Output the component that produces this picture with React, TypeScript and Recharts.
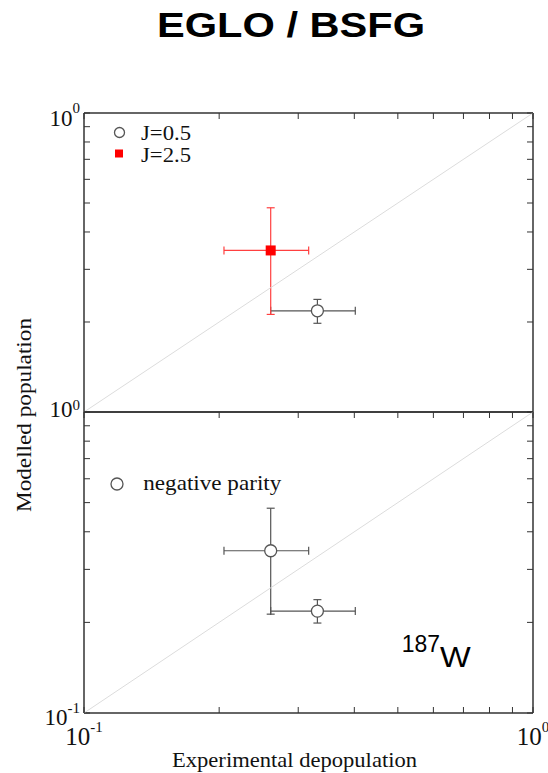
import { ErrorBar, Legend, Scatter, ScatterChart, XAxis, YAxis } from 'recharts'

const W = 548
const H = 773

const TICKS = [0.1, 0.2, 0.3, 0.4, 0.5, 0.6, 0.7, 0.8, 0.9, 1]
const DIAGONAL = [0.1, 1]

// upper panel, J=0.5
const J05_X = [0.331]
const J05_X_RANGE = [[0.2605, 0.402]]
const J05_Y = [0.218]
const J05_Y_RANGE = [[0.198, 0.238]]

// upper panel, J=2.5
const J25_X = [0.2605]
const J25_X_RANGE = [[0.205, 0.3165]]
const J25_Y = [0.347]
const J25_Y_RANGE = [[0.212, 0.482]]

// lower panel, negative parity
const NEG_X = [0.2605, 0.331]
const NEG_X_RANGE = [[0.205, 0.3165], [0.2605, 0.402]]
const NEG_Y = [0.346, 0.218]
const NEG_Y_RANGE = [[0.213, 0.479], [0.199, 0.238]]

const SERIF = '"Liberation Serif", "Times New Roman", serif'
const SANS = '"Liberation Sans", Arial, sans-serif'
const AXIS = '#333'
const GREY = '#555'
const RED = '#ff0000'

const toRows = (xs: number[], xr: number[][], ys: number[], yr: number[][]) =>
  xs.map((x, i) => ({
    x,
    y: ys[i],
    ex: [x - xr[i][0], xr[i][1] - x],
    ey: [ys[i] - yr[i][0], yr[i][1] - ys[i]],
  }))

const diagRows = DIAGONAL.map((v) => ({ x: v, y: v }))

const MARKERS: Record<string, 'circle' | 'square'> = {
  'J=0.5': 'circle',
  'J=2.5': 'square',
  'negative parity': 'circle',
}

const OpenCircle = (p: any) => <circle cx={p.cx} cy={p.cy} r={6} fill="#fff" stroke={GREY} strokeWidth={1.3} />
const RedSquare = (p: any) => <rect x={p.cx - 5} y={p.cy - 5} width={10} height={10} fill={RED} />
const NoShape = () => <g />

type LabelSpec = { sup: string; dy: number; supDy: number }

const LeftTick = ({ x, y, payload, labels }: any) => {
  const lab: LabelSpec | undefined = labels[payload.value]
  return (
    <g>
      <line x1={x} x2={x + 6} y1={y} y2={y} stroke={AXIS} strokeWidth={1} />
      {lab && (
        <text x={x - 4} y={y + lab.dy} textAnchor="end" fontFamily={SERIF} fontSize={23} fill="#111">
          10
          <tspan dy={lab.supDy} fontSize={15}>
            {lab.sup}
          </tspan>
        </text>
      )}
    </g>
  )
}

const RightTick = ({ x, y }: any) => <line x1={x} x2={x - 6} y1={y} y2={y} stroke={AXIS} strokeWidth={1} />
const TopTick = ({ x, y }: any) => <line x1={x} x2={x} y1={y} y2={y + 6} stroke={AXIS} strokeWidth={1} />

const BottomTick = ({ x, y, payload, labels }: any) => {
  const sup: string | undefined = labels[payload.value]
  return (
    <g>
      <line x1={x} x2={x} y1={y} y2={y - 6} stroke={AXIS} strokeWidth={1} />
      {sup && (
        <text x={x} y={y + 32} textAnchor="middle" fontFamily={SERIF} fontSize={25} fill="#111">
          10
          <tspan dy={-13} fontSize={15}>
            {sup}
          </tspan>
        </text>
      )}
    </g>
  )
}

const LegendBox = ({ payload, rows }: any) => {
  const items = (payload || []).filter((e: any) => e.type !== 'none')
  return (
    <svg width={220} height={60} style={{ display: 'block' }}>
      {items.map((e: any, i: number) => {
        const r = rows[i]
        const kind = MARKERS[e.value]
        return (
          <g key={e.value}>
            {kind === 'square' ? (
              <rect x={r.mx - 4} y={r.my - 4} width={8} height={8} fill={RED} />
            ) : (
              <circle cx={r.mx} cy={r.my} r={r.mr} fill="#fff" stroke={GREY} strokeWidth={1.3} />
            )}
            <text
              x={r.tx}
              y={r.ty}
              fontFamily={SERIF}
              fontSize={r.fs}
              textLength={r.len}
              lengthAdjust="spacingAndGlyphs"
              fill="#111"
            >
              {e.value}
            </text>
          </g>
        )
      })}
    </svg>
  )
}

// axes take 1px of room each (a zero-size axis is not drawn), margins are reduced to match
const axisCommon = {
  type: 'number' as const,
  scale: 'log' as const,
  domain: [0.1, 1],
  allowDataOverflow: true,
  ticks: TICKS,
  interval: 0,
  tickSize: 0,
  tickMargin: 0,
  tickLine: false,
  axisLine: { stroke: AXIS, strokeWidth: 1.5 },
}

const axesFor = (leftLabels: Record<number, LabelSpec>, bottomLabels: Record<number, string> | null) => [
  <XAxis
    key="xb"
    xAxisId="b"
    dataKey="x"
    height={1}
    {...axisCommon}
    tick={bottomLabels ? (p: any) => <BottomTick {...p} labels={bottomLabels} /> : false}
  />,
  <XAxis key="xt" xAxisId="t" orientation="top" dataKey="x" height={1} {...axisCommon} tick={(p: any) => <TopTick {...p} />} />,
  <YAxis
    key="yl"
    yAxisId="l"
    dataKey="y"
    width={1}
    {...axisCommon}
    tick={(p: any) => <LeftTick {...p} labels={leftLabels} />}
  />,
  <YAxis key="yr" yAxisId="r" orientation="right" dataKey="y" width={1} {...axisCommon} tick={(p: any) => <RightTick {...p} />} />,
]

const diagonal = (
  <Scatter
    key="diag"
    xAxisId="t"
    yAxisId="r"
    data={diagRows}
    line={{ stroke: '#dcdcdc', strokeWidth: 1 }}
    shape={NoShape}
    legendType="none"
    isAnimationActive={false}
  />
)

const errBars = (color: string) => [
  <ErrorBar key="ex" dataKey="ex" direction="x" width={4} stroke={color} strokeWidth={1.2} />,
  <ErrorBar key="ey" dataKey="ey" direction="y" width={4} stroke={color} strokeWidth={1.2} />,
]

export default function App() {
  return (
    <div style={{ position: 'absolute', left: 0, top: 0, width: W, height: H, background: '#fff' }}>
      <div style={{ position: 'absolute', left: 0, top: 0 }}>
        <ScatterChart width={W} height={H} margin={{ top: 112, right: 14, bottom: 360, left: 83 }}>
          {axesFor({ 1: { sup: '0', dy: 13, supDy: -13 } }, null)}
          {diagonal}
          <Scatter
            name="J=0.5"
            xAxisId="b"
            yAxisId="l"
            data={toRows(J05_X, J05_X_RANGE, J05_Y, J05_Y_RANGE)}
            fill={GREY}
            shape={OpenCircle}
            isAnimationActive={false}
          >
            {errBars(GREY)}
          </Scatter>
          <Scatter
            name="J=2.5"
            xAxisId="b"
            yAxisId="l"
            data={toRows(J25_X, J25_X_RANGE, J25_Y, J25_Y_RANGE)}
            fill={RED}
            shape={RedSquare}
            isAnimationActive={false}
          >
            {errBars('#ff4040')}
          </Scatter>
          <Legend
            layout="vertical"
            align="center"
            verticalAlign="middle"
            wrapperStyle={{ left: 100, top: 115, width: 220 }}
            content={(p: any) => (
              <LegendBox
                {...p}
                rows={[
                  { mx: 19.5, my: 17.5, mr: 5, tx: 41, ty: 25, fs: 20, len: 50 },
                  { mx: 19, my: 38.5, mr: 5, tx: 41, ty: 46.7, fs: 20, len: 50 },
                ]}
              />
            )}
          />
        </ScatterChart>
      </div>
      <div style={{ position: 'absolute', left: 0, top: 0 }}>
        <ScatterChart width={W} height={H} margin={{ top: 411, right: 14, bottom: 59, left: 83 }}>
          {axesFor(
            { 1: { sup: '0', dy: 5, supDy: -7 }, 0.1: { sup: '-1', dy: 12, supDy: -12 } },
            { 0.1: '-1', 1: '0' },
          )}
          {diagonal}
          <Scatter
            name="negative parity"
            xAxisId="b"
            yAxisId="l"
            data={toRows(NEG_X, NEG_X_RANGE, NEG_Y, NEG_Y_RANGE)}
            fill={GREY}
            shape={OpenCircle}
            isAnimationActive={false}
          >
            {errBars(GREY)}
          </Scatter>
          <Legend
            layout="vertical"
            align="center"
            verticalAlign="middle"
            wrapperStyle={{ left: 100, top: 465, width: 220 }}
            content={(p: any) => (
              <LegendBox {...p} rows={[{ mx: 17, my: 19, mr: 6, tx: 43.3, ty: 25, fs: 22, len: 138 }]} />
            )}
          />
        </ScatterChart>
      </div>
      <svg width={W} height={H} style={{ position: 'absolute', left: 0, top: 0, pointerEvents: 'none' }}>
        <text x={157} y={37} fontFamily={SANS} fontWeight="bold" fontSize={35} textLength={268} lengthAdjust="spacingAndGlyphs" fill="#000">
          EGLO / BSFG
        </text>
        <text x={172} y={767} fontFamily={SERIF} fontSize={22} textLength={245} lengthAdjust="spacingAndGlyphs" fill="#111">
          Experimental depopulation
        </text>
        <text
          x={-97}
          y={0}
          transform="translate(31 415) rotate(-90)"
          fontFamily={SERIF}
          fontSize={22}
          textLength={194}
          lengthAdjust="spacingAndGlyphs"
          fill="#111"
        >
          Modelled population
        </text>
        <text x={401.7} y={651.7} fontFamily={SANS} fontSize={24} textLength={38.3} lengthAdjust="spacingAndGlyphs" fill="#000">
          187
        </text>
        <text x={440} y={666.7} fontFamily={SANS} fontSize={30} textLength={30.7} lengthAdjust="spacingAndGlyphs" fill="#000">
          W
        </text>
      </svg>
    </div>
  )
}
